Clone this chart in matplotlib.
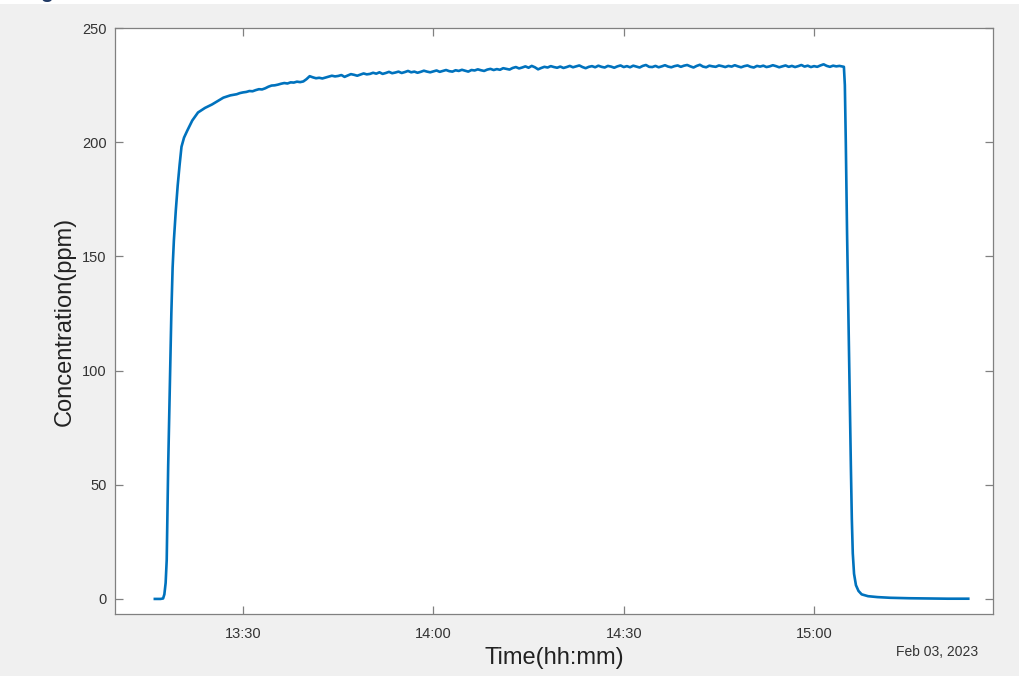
import numpy as np
import pandas as pd
import matplotlib
matplotlib.use('Agg')
import matplotlib.pyplot as plt
import matplotlib.dates as mdates

plt.rcParams['font.family'] = ['Liberation Sans', 'DejaVu Sans']

# minutes after 13:00 on the measurement day
rise_min = [16.1, 16.6, 17.0, 17.4, 17.6, 17.8, 17.97, 18.1, 18.2, 18.33, 18.5, 18.7,
            18.9, 19.1, 19.4, 19.7, 20.0, 20.3, 20.7, 21.2, 22.0, 22.9, 24.0, 25.1,
            26.0, 26.9, 28.0, 29.0, 29.5]
rise_ppm = [0.0, 0.0, 0.0, 0.2, 2.0, 7.0, 17.0, 40.0, 58.0, 76.0, 100.0, 125.0,
            145.0, 157.0, 170.0, 181.0, 190.0, 198.0, 202.0, 205.0, 209.5, 213.0, 215.0, 216.5,
            218.0, 219.5, 220.5, 221.0, 221.5]

# plateau, one reading every 30 s from 13:30:00 to 15:04:30
plateau_ppm = [
    221.8, 222.0, 222.4, 222.3, 222.8, 223.2, 223.1, 223.6, 224.3, 224.8,
    224.9, 225.2, 225.6, 225.9, 225.7, 226.2, 226.1, 226.5, 226.3, 226.6,
    227.6, 228.9, 228.4, 228.0, 228.2, 227.9, 228.3, 228.7, 229.1, 228.8,
    229.0, 229.4, 228.6, 229.2, 229.8, 229.5, 229.1, 229.6, 230.1, 229.7,
    229.9, 230.4, 230.0, 230.6, 229.9, 230.3, 230.8, 230.2, 230.5, 230.9,
    230.3, 230.7, 231.2, 230.6, 230.9, 230.4, 230.8, 231.3, 230.9, 230.6,
    231.0, 231.4, 230.8, 231.2, 231.6, 231.1, 230.9, 231.5, 231.2, 231.7,
    231.3, 230.9, 231.6, 231.4, 231.9, 231.5, 231.2, 231.8, 232.1, 231.6,
    232.0, 231.7, 232.4, 232.1, 231.8, 232.5, 232.9, 232.3, 232.7, 233.2,
    232.6, 233.4, 232.8, 231.9, 232.5, 233.0, 232.7, 233.3, 232.9, 232.6,
    233.1, 232.5, 232.9, 233.4, 232.8, 233.2, 233.6, 232.9, 232.4, 233.0,
    233.3, 232.8, 233.5, 233.0, 232.7, 233.4, 233.1, 232.6, 233.2, 233.6,
    232.9, 233.3, 232.8, 233.5, 233.1, 232.7, 233.4, 233.8, 233.0, 232.9,
    233.4, 232.8, 233.2, 233.7, 233.1, 232.8, 233.3, 233.6, 233.0, 233.5,
    233.8, 233.2, 232.7, 233.4, 233.9, 233.1, 232.8, 233.5, 233.2, 233.0,
    233.6, 233.3, 232.9, 233.4, 233.1, 233.7, 233.2, 232.8, 233.3, 233.6,
    233.0, 232.7, 233.4, 233.1, 233.5, 232.9, 233.2, 233.7, 233.3, 232.8,
    233.2, 233.6, 233.0, 233.4, 232.9, 233.3, 233.8, 233.1, 233.5, 232.9,
    233.3, 233.0, 233.6, 234.1, 233.4, 233.0, 233.5, 233.2, 233.4, 233.1,
]
plateau_min = np.arange(len(plateau_ppm)) * 0.5 + 30.0

drop_min = [124.7, 124.85, 125.0, 125.2, 125.4, 125.6, 125.8, 125.95, 126.1, 126.3,
            126.6, 127.0, 127.5, 128.5, 130.0, 132.0, 135.0, 138.0, 141.0, 144.3]
drop_ppm = [233.0, 225.0, 200.0, 160.0, 125.0, 90.0, 58.0, 35.0, 20.0, 11.0,
            6.0, 3.5, 2.0, 1.2, 0.8, 0.5, 0.3, 0.2, 0.1, 0.1]

minutes = np.concatenate([rise_min, plateau_min, drop_min])
ppm = np.concatenate([rise_ppm, plateau_ppm, drop_ppm])

base = pd.Timestamp('2023-02-03 13:00')
t = base + pd.to_timedelta(minutes, unit='min')

fig = plt.figure(figsize=(10.2, 6.76), dpi=100, facecolor='#f0f0f0')
# white strip and clipped heading glyph at the very top
fig.patches.append(plt.Rectangle((0, 1 - 4 / 676), 1, 4 / 676, transform=fig.transFigure,
                                 facecolor='white', edgecolor='none'))
fig.text(40 / 1020, 1 + 2 / 676, 'g', color='#1f3864', fontsize=15, fontweight='bold',
         va='baseline', ha='left')

ax = fig.add_axes([115 / 1020, 1 - 614 / 676, 878 / 1020, 586 / 676])
ax.set_facecolor('white')
ax.plot(t, ppm, color='#0072BD', lw=1.9, solid_joinstyle='round')

ax.set_xlim(base + pd.Timedelta(minutes=9.82), base + pd.Timedelta(minutes=148.2))
ax.set_ylim(-6.6, 250)
ax.set_yticks([0, 50, 100, 150, 200, 250])
ax.xaxis.set_major_locator(mdates.MinuteLocator(byminute=[0, 30]))
ax.xaxis.set_major_formatter(mdates.DateFormatter('%H:%M'))

for s in ax.spines.values():
    s.set_color('#808080')
    s.set_linewidth(0.9)
ax.tick_params(direction='in', top=True, right=True, length=6, width=0.9,
               color='#808080', labelcolor='#333333', labelsize=10.5)
ax.tick_params(axis='x', pad=9)
ax.tick_params(axis='y', pad=6)

ax.set_ylabel('Concentration(ppm)', fontsize=17, color='#222222')
ax.yaxis.set_label_coords(-0.057, 0.5)
ax.yaxis.label.set_va('center')
ax.set_xlabel('Time(hh:mm)', fontsize=17, color='#222222')
ax.xaxis.set_label_coords(0.5, -(658 - 614) / 586)
ax.xaxis.label.set_va('center')

fig.text(937 / 1020, 1 - 652 / 676, 'Feb 03, 2023', fontsize=10, color='#333333',
         ha='center', va='center')

fig.savefig('out.png', dpi=100, facecolor=fig.get_facecolor())
